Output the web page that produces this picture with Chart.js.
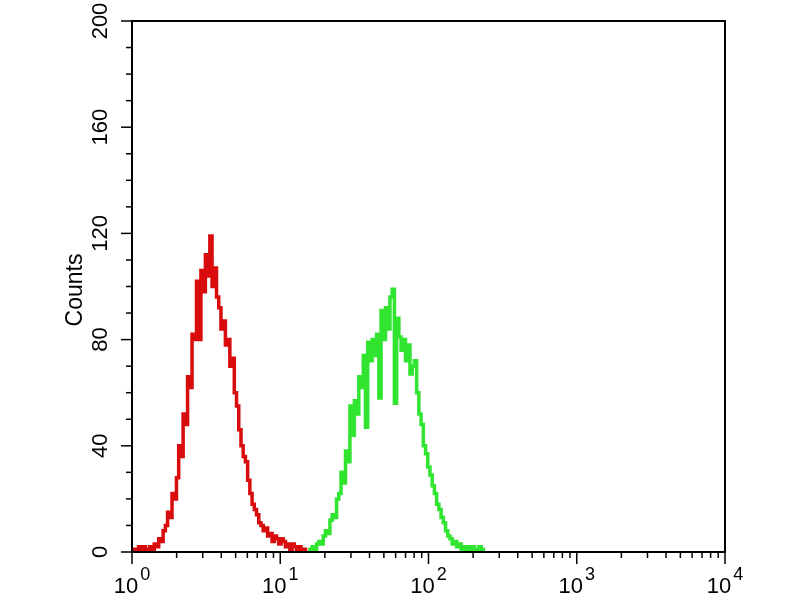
<!DOCTYPE html>
<html>
<head>
<meta charset="utf-8">
<script src="https://cdn.jsdelivr.net/npm/chart.js@4"></script>
<style>
  html, body { margin: 0; padding: 0; background: #fff; }
  #wrap { width: 800px; height: 600px; position: relative; }
</style>
</head>
<body>
<div id="wrap"><canvas id="histChart"></canvas></div>
<script>
// channel values (fluorescence) and counts
const redX = [1.000, 1.035, 1.072, 1.109, 1.148, 1.189, 1.230, 1.274, 1.318, 1.365,
  1.413, 1.462, 1.514, 1.567, 1.622, 1.679, 1.738, 1.799, 1.862, 1.928,
  1.995, 2.065, 2.138, 2.213, 2.291, 2.371, 2.455, 2.541, 2.630, 2.723,
  2.818, 2.917, 3.020, 3.126, 3.236, 3.350, 3.467, 3.589, 3.715, 3.846,
  3.981, 4.121, 4.266, 4.416, 4.571, 4.732, 4.898, 5.070, 5.248, 5.433,
  5.623, 5.821, 6.026, 6.237, 6.457, 6.683, 6.918, 7.161, 7.413, 7.674,
  7.943, 8.222, 8.511, 8.810, 9.120, 9.441, 9.772, 10.12, 10.47, 10.84,
  11.22, 11.61, 12.02, 12.45, 12.88, 13.34, 13.80, 14.29, 14.79];
const redCounts = [0, 1, 0, 2, 1, 2, 0, 1, 2, 1,
  3, 2, 5, 4, 8, 10, 15, 13, 22, 20,
  28, 40, 36, 52, 48, 66, 62, 82, 80, 102,
  80, 106, 98, 112, 104, 119, 100, 107, 96, 92,
  84, 87, 78, 80, 70, 73, 60, 55, 46, 40,
  36, 34, 27, 22, 18, 16, 14, 11, 10, 8,
  9, 6, 7, 4, 6, 5, 3, 5, 4, 2,
  3, 1, 3, 2, 1, 2, 0, 1, 0];

const greenX = [15.31, 15.85, 16.41, 16.98, 17.58, 18.20, 18.84, 19.50, 20.18, 20.89,
  21.63, 22.39, 23.17, 23.99, 24.83, 25.70, 26.61, 27.54, 28.51, 29.51,
  30.55, 31.62, 32.73, 33.88, 35.08, 36.31, 37.58, 38.90, 40.27, 41.69,
  43.15, 44.67, 46.24, 47.86, 49.55, 51.29, 53.09, 54.95, 56.89, 58.88,
  60.95, 63.10, 65.31, 67.61, 69.98, 72.44, 74.99, 77.62, 80.35, 83.18,
  86.10, 89.13, 92.26, 95.50, 98.86, 102.3, 105.9, 109.6, 113.5, 117.5,
  121.6, 125.9, 130.3, 134.9, 139.6, 144.5, 149.6, 154.9, 160.3, 166.0,
  171.8, 177.8, 184.1, 190.5, 197.2, 204.2, 211.3, 218.8, 226.5, 234.4];
const greenCounts = [0, 1, 2, 1, 3, 4, 3, 6, 8, 7,
  12, 14, 13, 20, 22, 30, 26, 38, 34, 55,
  44, 57, 52, 66, 62, 74, 47, 79, 72, 80,
  74, 82, 58, 91, 80, 92, 84, 96, 99, 56,
  88, 81, 76, 80, 72, 78, 67, 70, 72, 60,
  52, 48, 40, 37, 32, 29, 25, 22, 18, 16,
  13, 11, 8, 6, 5, 3, 4, 2, 3, 1,
  2, 1, 2, 1, 2, 0, 1, 2, 1, 0];

const xDecades = [1, 10, 100, 1000, 10000];
const xExponents = ['0', '1', '2', '3', '4'];
const yLabels = [0, 40, 80, 120, 160, 200];
const yTitle = 'Counts';

const FONT = '"Liberation Sans", Arial, sans-serif';

// frame, tick marks and labels (10 with superscript, rotated y labels)
const axisDecor = {
  id: 'axisDecor',
  afterDraw(chart) {
    const { ctx, chartArea: a, scales: { x, y } } = chart;
    ctx.save();
    ctx.strokeStyle = '#000';
    ctx.fillStyle = '#000';

    ctx.lineWidth = 2;
    ctx.strokeRect(a.left, a.top, a.right - a.left, a.bottom - a.top);

    ctx.lineWidth = 1.5;
    x.ticks.forEach(t => {
      const px = x.getPixelForValue(t.value);
      const len = xDecades.includes(t.value) ? 12 : 6;
      ctx.beginPath();
      ctx.moveTo(px, a.bottom);
      ctx.lineTo(px, a.bottom + len);
      ctx.stroke();
    });
    y.ticks.forEach(t => {
      const py = y.getPixelForValue(t.value);
      const len = t.value % 40 === 0 ? 11 : 6;
      ctx.beginPath();
      ctx.moveTo(a.left, py);
      ctx.lineTo(a.left - len, py);
      ctx.stroke();
    });

    ctx.textBaseline = 'alphabetic';
    xDecades.forEach((v, i) => {
      const px = x.getPixelForValue(v);
      ctx.font = '22px ' + FONT;
      const w1 = ctx.measureText('10').width;
      ctx.font = '18px ' + FONT;
      const w2 = ctx.measureText(xExponents[i]).width;
      const start = px - (w1 + 2 + w2) / 2;
      ctx.textAlign = 'left';
      ctx.font = '22px ' + FONT;
      ctx.fillText('10', start, a.bottom + 41);
      ctx.font = '18px ' + FONT;
      ctx.fillText(xExponents[i], start + w1 + 2, a.bottom + 28);
    });

    ctx.textAlign = 'center';
    ctx.font = '22px ' + FONT;
    yLabels.forEach(v => {
      const py = y.getPixelForValue(v);
      ctx.save();
      ctx.translate(a.left - 25, py);
      ctx.rotate(-Math.PI / 2);
      ctx.fillText(String(v), 0, 0);
      ctx.restore();
    });

    ctx.save();
    ctx.font = '23px ' + FONT;
    ctx.translate(a.left - 50, 290);
    ctx.rotate(-Math.PI / 2);
    ctx.fillText(yTitle, 0, 0);
    ctx.restore();

    ctx.restore();
  }
};

const ctx = document.getElementById('histChart');
new Chart(ctx, {
  type: 'line',
  data: {
    datasets: [
      {
        label: 'Control',
        data: redX.map((v, i) => ({ x: v, y: redCounts[i] })),
        borderColor: '#d80c0c',
        borderWidth: 3.5,
        stepped: true,
        pointRadius: 0,
        fill: false
      },
      {
        label: 'Sample',
        data: greenX.map((v, i) => ({ x: v, y: greenCounts[i] })),
        borderColor: '#30e430',
        borderWidth: 3.5,
        stepped: true,
        pointRadius: 0,
        fill: false
      }
    ]
  },
  options: {
    responsive: true,
    maintainAspectRatio: false,
    animation: false,
    layout: { padding: { left: 132, right: 75, top: 21, bottom: 48 } },
    plugins: {
      legend: { display: false },
      tooltip: { enabled: false }
    },
    scales: {
      x: {
        type: 'logarithmic',
        min: 1,
        max: 10000,
        afterBuildTicks: scale => {
          const ticks = [];
          xDecades.slice(0, -1).forEach(d => {
            for (let m = 1; m <= 9; m++) ticks.push({ value: d * m });
          });
          ticks.push({ value: 10000 });
          scale.ticks = ticks;
        },
        ticks: { display: false },
        grid: { display: false, drawTicks: false },
        border: { display: false }
      },
      y: {
        type: 'linear',
        min: 0,
        max: 200,
        ticks: { display: false, stepSize: 10 },
        grid: { display: false, drawTicks: false },
        border: { display: false }
      }
    }
  },
  plugins: [axisDecor]
});
</script>
</body>
</html>
